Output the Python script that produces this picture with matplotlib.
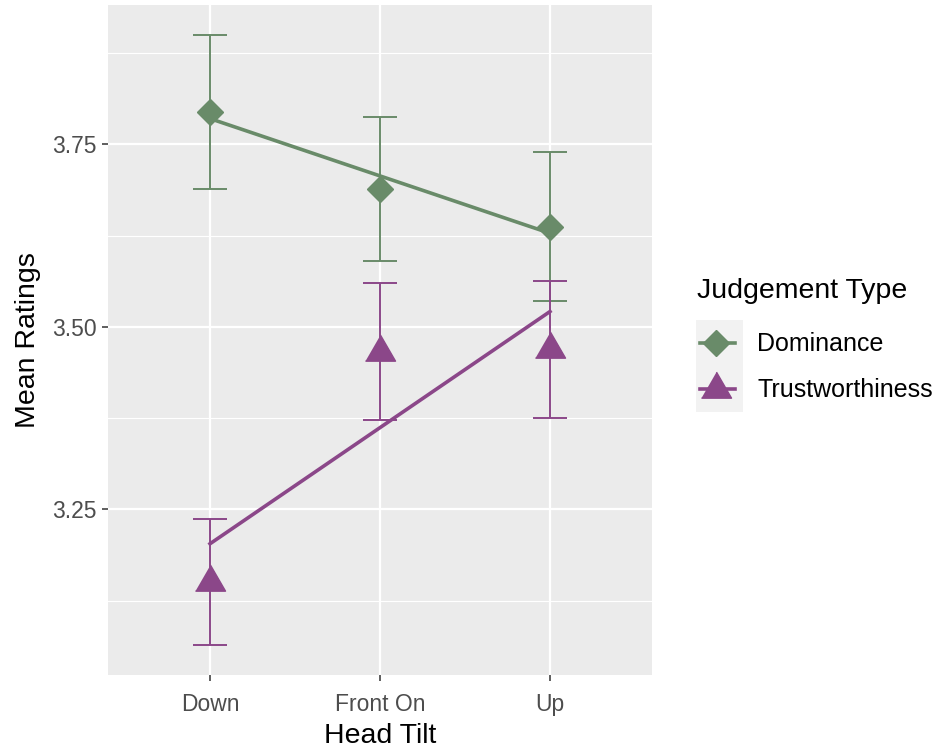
import numpy as np
import matplotlib.pyplot as plt
from matplotlib.ticker import FixedLocator

plt.rcParams['font.family'] = ['Liberation Sans', 'DejaVu Sans']

tilts = ['Down', 'Front On', 'Up']
groups = ['Dominance', 'Trustworthiness']
dom_mean = [3.794, 3.689, 3.637]
dom_err = [0.105, 0.099, 0.102]
tru_mean = [3.151, 3.466, 3.469]
tru_err = [0.086, 0.094, 0.094]

colours = ['#698B69', '#8B4789']
tri = [(-1.0, -0.577), (1.0, -0.577), (0.0, 1.155)]
markers = ['D', tri]
msizes = [13.5, 25]

means = [dom_mean, tru_mean]
errs = [dom_err, tru_err]

fig = plt.figure(figsize=(9.4, 7.55), dpi=100)
ax = fig.add_axes([108/940, 1 - 675/755, 544/940, 670/755])
ax.set_facecolor('#EBEBEB')

x = np.arange(1, len(tilts) + 1)
for m, e, c, mk, ms in zip(means, errs, colours, markers, msizes):
    m = np.array(m)
    e = np.array(e)
    ax.errorbar(x, m, yerr=e, fmt='none', ecolor=c, elinewidth=1.4,
                capsize=12, capthick=1.4, zorder=3)
    # straight-line fit through the three means (like geom_smooth(method='lm'))
    k, b = np.polyfit(x, m, 1)
    ax.plot(x, k * x + b, color=c, lw=2.6, zorder=4)
    ax.plot(x, m, linestyle='none', marker=mk, markersize=ms, color=c, zorder=5)

# ggplot-like limits: data range plus 5 %
lo = min(np.min(np.array(m) - np.array(e)) for m, e in zip(means, errs))
hi = max(np.max(np.array(m) + np.array(e)) for m, e in zip(means, errs))
pad = 0.05 * (hi - lo)
ax.set_ylim(lo - pad, hi + pad)
ax.set_xlim(0.4, len(tilts) + 0.6)

ax.set_xticks(x)
ax.set_xticklabels(tilts)
ax.set_yticks([3.25, 3.50, 3.75])
ax.set_yticklabels(['3.25', '3.50', '3.75'])
ax.yaxis.set_minor_locator(FixedLocator([3.125, 3.375, 3.625, 3.875]))
ax.tick_params(axis='y', which='minor', length=0)
ax.grid(True, which='major', color='white', lw=1.6)
ax.grid(True, which='minor', axis='y', color='white', lw=0.8)
ax.set_axisbelow(True)
for s in ax.spines.values():
    s.set_visible(False)
ax.tick_params(which='major', length=4, width=1.1, color='#333333',
               labelsize=16.5, labelcolor='#4D4D4D', pad=4)
ax.tick_params(axis='x', pad=9)

ax.set_xlabel('Head Tilt', fontsize=20.5, labelpad=5)
ax.set_ylabel('Mean Ratings', fontsize=20.5, labelpad=8)

# legend drawn by hand to get the grey key boxes
fig.text(697/940, 1 - 291/755, 'Judgement Type', fontsize=20.5, va='center')
lax = fig.add_axes([696/940, 1 - 412/755, 47/940, 92/755])
lax.set_facecolor('#F2F2F2')
lax.set_xlim(0, 1)
lax.set_ylim(0, 2)
lax.set_xticks([])
lax.set_yticks([])
for s in lax.spines.values():
    s.set_visible(False)
for i, (g, c, mk, ms) in enumerate(zip(groups, colours, markers, msizes)):
    yk = 1.5 - i
    lax.plot([0.08, 0.82], [yk, yk], color=c, lw=2.6)
    lax.plot([0.42], [yk], marker=mk, markersize=ms, color=c, linestyle='none')
    fig.text(757/940, 1 - (344 + 46 * i)/755, g, fontsize=18, va='center')

fig.savefig('out.png', dpi=100)
